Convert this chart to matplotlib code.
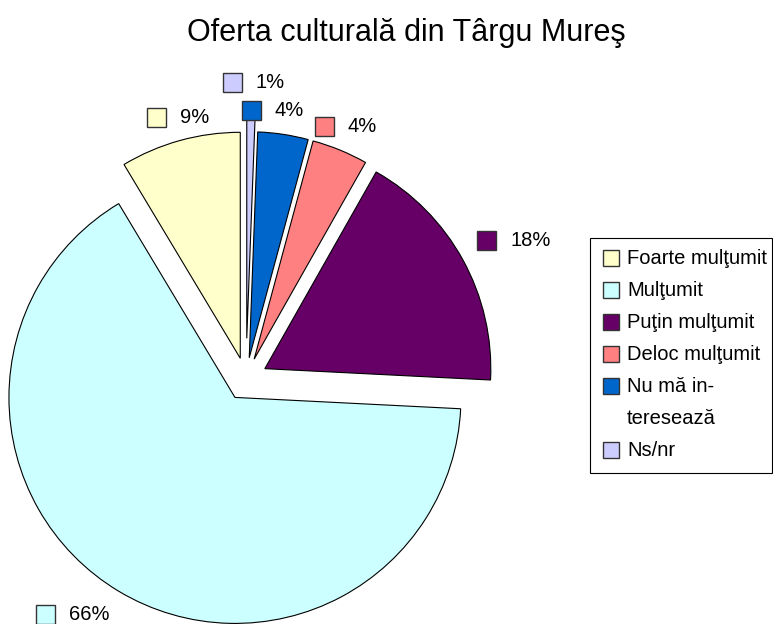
import numpy as np
import matplotlib
matplotlib.use("Agg")
import matplotlib.pyplot as plt
from matplotlib.patches import Rectangle
from matplotlib.offsetbox import AnnotationBbox, DrawingArea, TextArea, HPacker

plt.rcParams['font.family'] = ['Liberation Sans', 'DejaVu Sans']

# data
categories = ["Foarte mulţumit", "Mulţumit", "Puţin mulţumit", "Deloc mulţumit",
              "Nu mă in-\nteresează", "Ns/nr"]
shares = [8.6, 65.6, 17.6, 4.0, 3.6, 0.6]
colors = ["#FFFFCC", "#CCFFFF", "#660066", "#FF8080", "#0066CC", "#CCCCFF"]
title = "Oferta culturală din Târgu Mureş"

# layout (units = pixels of the 773x624 output)
W, H = 773, 624
center = (246, H - 379)
radius = 226
explode = [0.095, 0.095, 0.095, 0.095, 0.095, 0.18]   # fraction of radius
label_r = [1.197, 1.294, 1.334, 1.2, 1.196, 1.312]
label_turn = [-1.0, -5.4, -1.5, 0.7, 2.9, -0.4]
small = 14.5

fig = plt.figure(figsize=(W / 100, H / 100), dpi=100)
ax = fig.add_axes([0, 0, 1, 1])

# matplotlib's explode is in data units, not radius units
wedges, _ = ax.pie(shares, explode=[e * radius for e in explode], colors=colors,
                   startangle=90, counterclock=True, center=center, radius=radius,
                   frame=True, wedgeprops=dict(edgecolor="black", linewidth=0.8))
ax.set_xlim(0, W)
ax.set_ylim(0, H)
ax.set_aspect("equal")
ax.axis("off")

# percentage labels with colour boxes
box_pt = 19 * 72 / 100
for w, v, c, k, t in zip(wedges, shares, colors, label_r, label_turn):
    a = np.deg2rad((w.theta1 + w.theta2) / 2 + t)
    x = center[0] + k * radius * np.cos(a)
    y = center[1] + k * radius * np.sin(a)
    da = DrawingArea(box_pt, box_pt, 0, 0)
    da.add_artist(Rectangle((0, 0), box_pt, box_pt, facecolor=c,
                            edgecolor="#333333", linewidth=1))
    ta = TextArea(f"{v:.0f}%", textprops=dict(fontsize=small, color="black"))
    pack = HPacker(children=[da, ta], sep=10, pad=0, align="center")
    ab = AnnotationBbox(pack, (x, y), xycoords="data", frameon=False,
                        box_alignment=(0.5, 0.5), pad=0)
    ax.add_artist(ab)

# legend drawn by hand (Excel style)
ax.add_patch(Rectangle((590, H - 473), 182, 235, facecolor="white",
                       edgecolor="black", linewidth=0.8, zorder=3))
line = 0
row0, step = 258, 32
for lab, c in zip(categories, colors):
    yc = H - (row0 + step * line)
    ax.add_patch(Rectangle((603, yc - 8), 16, 16, facecolor=c,
                           edgecolor="#333333", linewidth=1, zorder=4))
    for part in lab.split("\n"):
        yc = H - (row0 + step * line)
        ax.text(627, yc, part, fontsize=small, va="center", ha="left", zorder=4)
        line += 1

ax.text(406, H - 41, title, fontsize=22, ha="center", va="baseline")

fig.savefig("out.png", dpi=100)
